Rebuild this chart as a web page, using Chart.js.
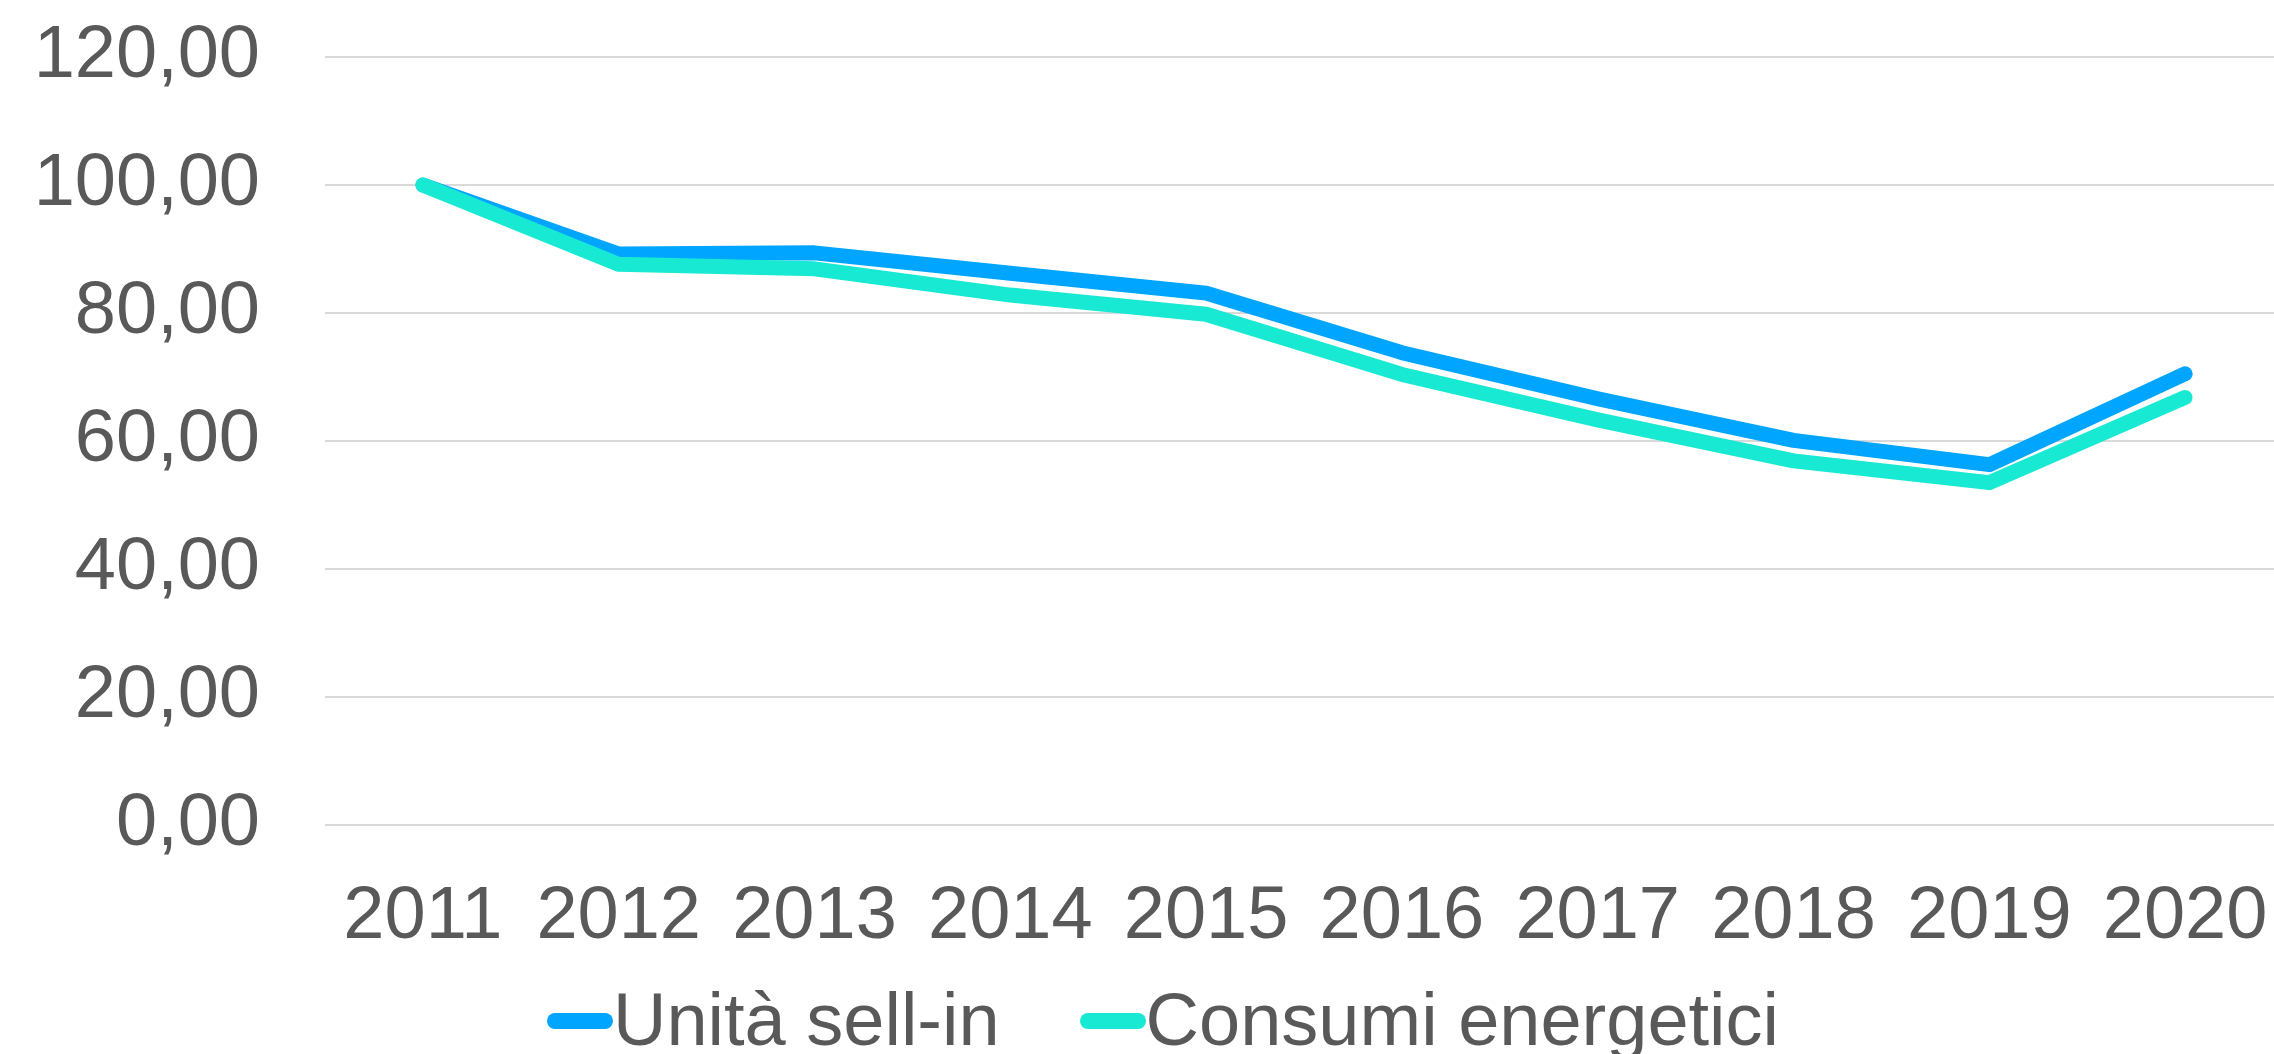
<!DOCTYPE html>
<html>
<head>
<meta charset="utf-8">
<script src="https://cdn.jsdelivr.net/npm/chart.js@4"></script>
<style>
  html, body { margin: 0; padding: 0; background: #fff; overflow: hidden; }
  body { width: 2274px; height: 1054px; position: relative; }
  #chart { display: block; }
  #legend {
    position: absolute;
    left: 547px;
    top: 983px;
    display: flex;
    align-items: center;
    white-space: nowrap;
    font-family: 'Liberation Sans', Arial, sans-serif;
    font-size: 74px;
    line-height: 74px;
    color: #595959;
  }
  #legend .item { display: flex; align-items: center; margin-right: 80px; }
  #legend .mark { width: 66px; height: 16px; border-radius: 8px; position: relative; top: 1px; }
</style>
</head>
<body>
<canvas id="chart" width="2283" height="960"></canvas>
<div id="legend"></div>
<script>
// Anni
const years = ["2011", "2012", "2013", "2014", "2015", "2016", "2017", "2018", "2019", "2020"];

// Serie (indice 2011 = 100)
const sellIn = [100, 89.2, 89.4, 86.2, 83.1, 73.8, 66.6, 60.1, 56.3, 70.5];
const consumi = [100, 87.6, 86.9, 82.8, 79.8, 70.4, 63.3, 56.9, 53.5, 66.8];

// Tick asse y
const yTicks = [0, 20, 40, 60, 80, 100, 120];

const textColor = '#595959';
const fontFamily = "'Liberation Sans', Arial, sans-serif";

const ctx = document.getElementById('chart').getContext('2d');

const chart = new Chart(ctx, {
  type: 'line',
  data: {
    labels: years,
    datasets: [
      {
        label: 'Unità sell-in',
        data: sellIn,
        borderColor: '#00A5FF',
        backgroundColor: '#00A5FF',
        borderWidth: 15,
        borderCapStyle: 'round',
        borderJoinStyle: 'round',
        pointRadius: 0,
        tension: 0,
        order: 1
      },
      {
        label: 'Consumi energetici',
        data: consumi,
        borderColor: '#17E9D3',
        backgroundColor: '#17E9D3',
        borderWidth: 15,
        borderCapStyle: 'round',
        borderJoinStyle: 'round',
        pointRadius: 0,
        tension: 0,
        order: 0
      }
    ]
  },
  options: {
    responsive: false,
    animation: false,
    layout: {
      padding: { top: 57, left: 0, right: 0, bottom: 0 }
    },
    plugins: {
      tooltip: { enabled: false },
      legend: { display: false }
    },
    scales: {
      x: {
        offset: true,
        // tacche invisibili: servono solo a distanziare le etichette
        grid: { display: true, drawOnChartArea: false, drawTicks: true, tickLength: 48, tickColor: 'rgba(0,0,0,0)' },
        border: { display: false },
        ticks: {
          color: textColor,
          font: { family: fontFamily, size: 74 },
          padding: 0,
          maxRotation: 0,
          autoSkip: false
        },
        afterFit: (scale) => { scale.height = 135; }
      },
      y: {
        min: 0,
        max: 120,
        afterBuildTicks: (scale) => { scale.ticks = yTicks.map(v => ({ value: v })); },
        grid: { color: '#d9d9d9', lineWidth: 2, drawTicks: true, tickLength: 57, tickColor: 'rgba(0,0,0,0)' },
        border: { display: false },
        ticks: {
          color: textColor,
          font: { family: fontFamily, size: 74 },
          padding: 8,
          callback: (v) => v.toFixed(2).replace('.', ',')
        },
        afterFit: (scale) => { scale.width = 325; }
      }
    }
  }
});

// Legenda in HTML sotto il grafico
const legendEl = document.getElementById('legend');
chart.data.datasets.forEach(ds => {
  const item = document.createElement('div');
  item.className = 'item';
  const mark = document.createElement('span');
  mark.className = 'mark';
  mark.style.background = ds.borderColor;
  const label = document.createElement('span');
  label.textContent = ds.label;
  item.appendChild(mark);
  item.appendChild(label);
  legendEl.appendChild(item);
});
</script>
</body>
</html>
